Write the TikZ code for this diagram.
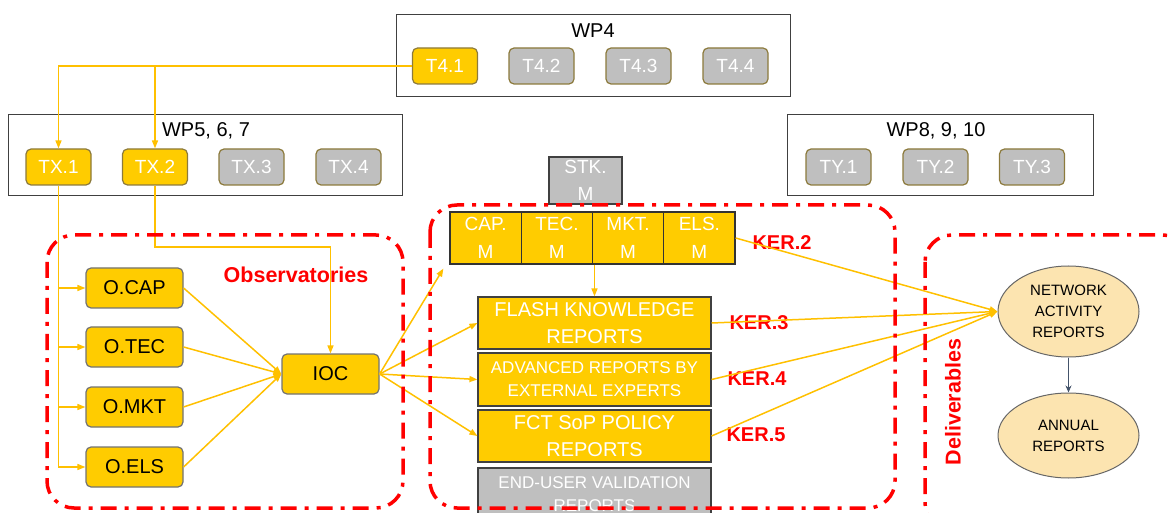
\documentclass[tikz,border=0pt]{standalone}
\usepackage{fontspec}
\setmainfont{Liberation Sans}
\usetikzlibrary{arrows.meta,calc,shapes.geometric}
\definecolor{ylw}{HTML}{FFCC00}
\definecolor{lny}{HTML}{FFC000}
\definecolor{gry}{HTML}{BFBFBF}
\definecolor{olv}{HTML}{8C7A3C}
\definecolor{ellc}{HTML}{FCE4B0}
\definecolor{rd}{HTML}{FF0000}
\definecolor{slate}{HTML}{44546A}
\begin{document}
\begin{tikzpicture}[x=1pt,y=-1pt,
 tsk/.style={rounded corners=5pt, draw=olv, line width=1.2pt, minimum width=65pt, minimum height=36pt, inner sep=0pt, font=\fontsize{19}{22}\selectfont, text=white},
 tY/.style={tsk, fill=ylw},
 tG/.style={tsk, fill=gry},
 obs/.style={rounded corners=5pt, draw=gray!90!black, fill=ylw, line width=1.2pt, minimum width=97pt, minimum height=40pt, inner sep=0pt, font=\fontsize{20}{24}\selectfont},
 wp/.style={draw=black!75, line width=1pt, inner sep=0pt},
 ttl/.style={font=\fontsize{20}{24}\selectfont, inner sep=0pt},
 mcell/.style={draw=black!80, line width=1.2pt, fill=ylw, minimum width=71.25pt, minimum height=52pt, inner sep=0pt, text=white, align=center, font=\fontsize{19}{28}\selectfont},
 rep/.style={draw=black!75, line width=1.2pt, fill=ylw, minimum width=233pt, minimum height=52pt, inner sep=0pt, text=white, align=center},
 big/.style={font=\fontsize{20}{27}\selectfont},
 small/.style={font=\fontsize{17}{23}\selectfont},
 conn/.style={draw=lny, line width=1.5pt, -{Triangle[length=8pt,width=6pt]}},
 zone/.style={draw=rd, line width=3.5pt, rounded corners=27pt, dash pattern=on 16pt off 8pt on 4pt off 8pt},
 ker/.style={text=rd, inner sep=0pt, font=\bfseries\fontsize{20}{24}\selectfont},
 zlabel/.style={text=rd, inner sep=0pt, font=\bfseries\fontsize{21.5}{24}\selectfont},
 ellip/.style={ellipse, draw=gray!80!black, line width=1pt, fill=ellc, minimum width=141pt, minimum height=91pt, inner sep=0pt, align=center, font=\fontsize{15}{21}\selectfont}
]
\useasboundingbox (0,0) rectangle (1171,513);
\clip (0,0) rectangle (1171,513);

% work packages
\node[wp, minimum width=394pt, minimum height=82pt] (wp4) at (593,56) {};
\node[ttl] (wp4t) at (593,31) {WP4};
\node[tY] (t41) at (445,66) {T4.1};
\node[tG] (t42) at (541.5,66) {T4.2};
\node[tG] (t43) at (638.5,66) {T4.3};
\node[tG] (t44) at (735.5,66) {T4.4};

\node[wp, minimum width=394pt, minimum height=81pt] (wp5) at (205,155.5) {};
\node[ttl] (wp5t) at (206,131) {WP5, 6, 7};
\node[tY] (tx1) at (58.5,167) {TX.1};
\node[tY] (tx2) at (155,167) {TX.2};
\node[tG] (tx3) at (251.5,167) {TX.3};
\node[tG] (tx4) at (348.5,167) {TX.4};

\node[wp, minimum width=306pt, minimum height=81pt] (wp8) at (940,155.5) {};
\node[ttl] (wp8t) at (936,131) {WP8, 9, 10};
\node[tG] (ty1) at (838.5,167) {TY.1};
\node[tG] (ty2) at (935.5,167) {TY.2};
\node[tG] (ty3) at (1032,167) {TY.3};

% observatories
\node[obs] (ocap) at (134.5,288) {O.CAP};
\node[obs] (otec) at (134.5,347) {O.TEC};
\node[obs] (omkt) at (134.5,407) {O.MKT};
\node[obs] (oels) at (134.5,467) {O.ELS};
\node[obs] (ioc) at (330.5,374) {IOC};
\node[zlabel] (obsl) at (296,275) {Observatories};

% middle
\node[mcell, fill=gry, draw=black!75, minimum width=73pt, minimum height=47pt, font=\fontsize{19}{27}\selectfont] (stk) at (585.5,180.5) {STK.\\M};
\node[mcell] (capm) at (485.6,238) {CAP.\\M};
\node[mcell] (tecm) at (556.9,238) {TEC.\\M};
\node[mcell] (mktm) at (628.1,238) {MKT.\\M};
\node[mcell] (elsm) at (699.4,238) {ELS.\\M};
\node[rep, big] (flash) at (594.5,323) {FLASH KNOWLEDGE\\REPORTS};
\node[rep, small, minimum height=53pt] (adv) at (594.5,379.5) {ADVANCED REPORTS BY\\EXTERNAL EXPERTS};
\node[rep, big] (fct) at (594.5,436) {FCT SoP POLICY\\REPORTS};
\node[rep, small, fill=gry] (endu) at (594.5,494) {END-USER VALIDATION\\REPORTS};
\node[ker] (k2) at (782,243) {KER.2};
\node[ker] (k3) at (759,323) {KER.3};
\node[ker] (k4) at (757,379) {KER.4};
\node[ker] (k5) at (756,435) {KER.5};

% deliverables
\node[ellip] (net) at (1068.5,311.5) {NETWORK\\ACTIVITY\\REPORTS};
\node[ellip, minimum height=85pt] (ann) at (1068.5,435.5) {ANNUAL\\REPORTS};
\node[zlabel, rotate=90] (delv) at (953,402) {Deliverables};

% connectors
\coordinate (j2) at (330.5,247);
\draw[conn] (t41.west) -| (tx1.north);
\draw[conn] (t41.west) -| (tx2.north);
\draw[conn] (tx1.south) |- (ocap.west);
\draw[conn] (tx1.south) |- (otec.west);
\draw[conn] (tx1.south) |- (omkt.west);
\draw[conn] (tx1.south) |- (oels.west);
\draw[conn] (tx2.south) |- (j2) -- (ioc.north);
\draw[conn] (ocap.east) -- (ioc.west);
\draw[conn] (otec.east) -- (ioc.west);
\draw[conn] (omkt.east) -- (ioc.west);
\draw[conn] (oels.east) -- (ioc.west);
\draw[conn] (ioc.east) -- ($(capm.south west)+(-6,4)$);
\draw[conn] (ioc.east) -- (flash.west);
\draw[conn] (ioc.east) -- (adv.west);
\draw[conn] (ioc.east) -- (fct.west);
\draw[conn] (flash.north |- capm.south) -- (flash.north);
\draw[conn] (elsm.east) -- (net.west);
\draw[conn] (flash.east) -- (net.west);
\draw[conn] (adv.east) -- (net.west);
\draw[conn] (fct.east) -- (net.west);
\draw[draw=slate, line width=1pt, -{Stealth[length=7pt,width=6pt]}] (net.south) -- (ann.north);

% zones
\draw[zone] (47,235) rectangle (403,508);
\draw[zone] (430,205) rectangle (895,508);
\draw[zone] (925,235) rectangle (1190,530);
\end{tikzpicture}
\end{document}
